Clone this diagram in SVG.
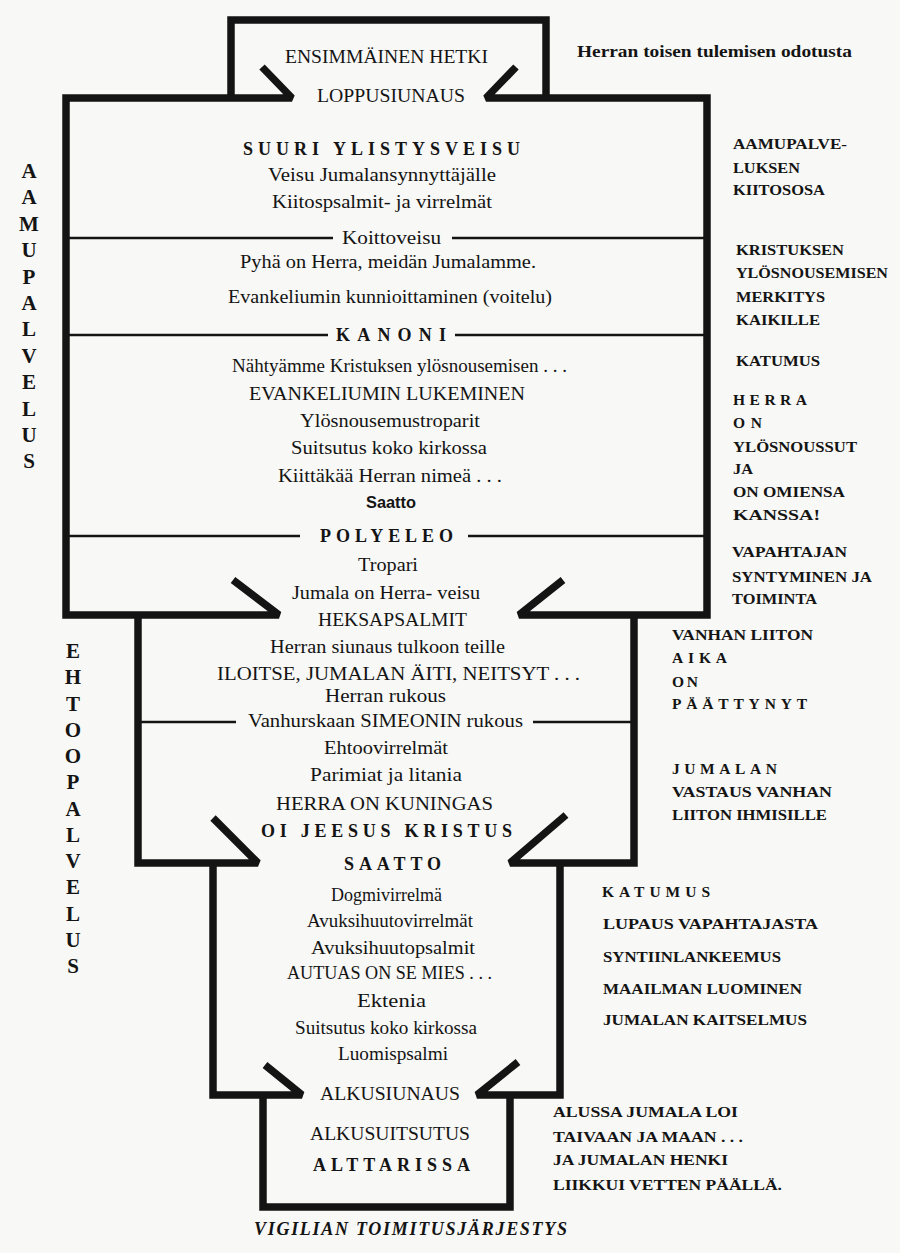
<svg xmlns="http://www.w3.org/2000/svg" width="900" height="1253" viewBox="0 0 900 1253">
<style>
.o{fill:none;stroke:#141414;stroke-width:7.5;stroke-linejoin:miter;stroke-miterlimit:2;stroke-linecap:butt}
.l{fill:none;stroke:#141414;stroke-width:2.5}
text{font-family:"Liberation Serif","Times New Roman",serif;fill:#141414}
.t{font-size:18px}
.b{font-size:18px;font-weight:bold}
.r{font-size:15.5px;font-weight:bold}
.v{font-size:21px;font-weight:bold;text-anchor:middle}
.i{font-size:18px;font-style:italic;font-weight:bold}
</style>
<rect width="900" height="1253" fill="#f8f8f6"/>
<g id="outline">
<path class="o" d="M231,98 V20 H546 V98"/>
<path class="o" d="M262,67 L292,98 H66 V615 H279 L233,580"/>
<path class="o" d="M516,67 L486,98 H707 V615 H519 L563,580"/>
<path class="o" d="M138,615 V863 H258 L213,818"/>
<path class="o" d="M634,615 V863 H510 L566,815"/>
<path class="o" d="M213,863 V1095 H302 L265,1065"/>
<path class="o" d="M560,863 V1095 H477 L518,1062"/>
<path class="o" d="M263,1095 V1207 H510 V1095"/>
</g>
<g id="dividers">
<path class="l" d="M66,238 H333 M452,238 H707"/>
<path class="l" d="M66,335 H328 M455,335 H707"/>
<path class="l" d="M66,536 H300 M468,536 H707"/>
<path class="l" d="M138,722 H236 M533,722 H634"/>
</g>
<g id="top-box">
<text class="t" x="285" y="63" textLength="203" lengthAdjust="spacingAndGlyphs">ENSIMMÄINEN HETKI</text>
<text class="t" x="317" y="102" textLength="148" lengthAdjust="spacingAndGlyphs">LOPPUSIUNAUS</text>
</g>
<g id="top-note">
<text class="r" style="font-size:16px" x="577" y="57" textLength="275" lengthAdjust="spacingAndGlyphs">Herran toisen tulemisen odotusta</text>
</g>
<g id="aamupalvelus-box">
<text class="b" x="243" y="155" textLength="277" lengthAdjust="spacing">SUURI YLISTYSVEISU</text>
<text class="t" x="268" y="181" textLength="228" lengthAdjust="spacingAndGlyphs">Veisu Jumalansynnyttäjälle</text>
<text class="t" x="272" y="208" textLength="220" lengthAdjust="spacingAndGlyphs">Kiitospsalmit- ja virrelmät</text>
<text class="t" x="342" y="244" textLength="99" lengthAdjust="spacingAndGlyphs">Koittoveisu</text>
<text class="t" x="240" y="268" textLength="296" lengthAdjust="spacingAndGlyphs">Pyhä on Herra, meidän Jumalamme.</text>
<text class="t" x="228" y="303" textLength="324" lengthAdjust="spacingAndGlyphs">Evankeliumin kunnioittaminen (voitelu)</text>
<text class="b" x="336" y="341" textLength="110" lengthAdjust="spacing">KANONI</text>
<text class="t" x="232" y="372" textLength="335" lengthAdjust="spacingAndGlyphs">Nähtyämme Kristuksen ylösnousemisen . . .</text>
<text class="t" x="249" y="400" textLength="276" lengthAdjust="spacingAndGlyphs">EVANKELIUMIN LUKEMINEN</text>
<text class="t" x="300" y="427" textLength="180" lengthAdjust="spacingAndGlyphs">Ylösnousemustroparit</text>
<text class="t" x="291" y="454" textLength="196" lengthAdjust="spacingAndGlyphs">Suitsutus koko kirkossa</text>
<text class="t" x="278" y="482" textLength="224" lengthAdjust="spacingAndGlyphs">Kiittäkää Herran nimeä . . .</text>
<text class="b" style="font-family:'Liberation Sans',Arial,sans-serif;font-size:16px" x="366" y="508" textLength="50" lengthAdjust="spacingAndGlyphs">Saatto</text>
<text class="b" x="320" y="542" textLength="133" lengthAdjust="spacing">POLYELEO</text>
<text class="t" x="358" y="571" textLength="60" lengthAdjust="spacingAndGlyphs">Tropari</text>
<text class="t" x="292" y="599" textLength="188" lengthAdjust="spacingAndGlyphs">Jumala on Herra- veisu</text>
</g>
<g id="ehtoopalvelus-box">
<text class="t" x="318" y="626" textLength="149" lengthAdjust="spacingAndGlyphs">HEKSAPSALMIT</text>
<text class="t" x="270" y="653" textLength="235" lengthAdjust="spacingAndGlyphs">Herran siunaus tulkoon teille</text>
<text class="t" x="217" y="680" textLength="363" lengthAdjust="spacingAndGlyphs">ILOITSE, JUMALAN ÄITI, NEITSYT . . .</text>
<text class="t" x="325" y="702" textLength="121" lengthAdjust="spacingAndGlyphs">Herran rukous</text>
<text class="t" x="248" y="727" textLength="275" lengthAdjust="spacingAndGlyphs">Vanhurskaan SIMEONIN rukous</text>
<text class="t" x="324" y="754" textLength="124" lengthAdjust="spacingAndGlyphs">Ehtoovirrelmät</text>
<text class="t" x="310" y="781" textLength="152" lengthAdjust="spacingAndGlyphs">Parimiat ja litania</text>
<text class="t" x="276" y="810" textLength="217" lengthAdjust="spacingAndGlyphs">HERRA ON KUNINGAS</text>
<text class="b" x="261" y="837" textLength="251" lengthAdjust="spacing">OI JEESUS KRISTUS</text>
</g>
<g id="lower-box">
<text class="b" x="344" y="870" textLength="97" lengthAdjust="spacing">SAATTO</text>
<text class="t" x="331" y="901" textLength="111" lengthAdjust="spacingAndGlyphs">Dogmivirrelmä</text>
<text class="t" x="307" y="927" textLength="166" lengthAdjust="spacingAndGlyphs">Avuksihuutovirrelmät</text>
<text class="t" x="311" y="954" textLength="164" lengthAdjust="spacingAndGlyphs">Avuksihuutopsalmit</text>
<text class="t" x="287" y="979" textLength="205" lengthAdjust="spacingAndGlyphs">AUTUAS ON SE MIES . . .</text>
<text class="t" x="357" y="1007" textLength="69" lengthAdjust="spacingAndGlyphs">Ektenia</text>
<text class="t" x="295" y="1034" textLength="182" lengthAdjust="spacingAndGlyphs">Suitsutus koko kirkossa</text>
<text class="t" x="338" y="1060" textLength="110" lengthAdjust="spacingAndGlyphs">Luomispsalmi</text>
</g>
<g id="bottom-box">
<text class="t" x="320" y="1100" textLength="140" lengthAdjust="spacingAndGlyphs">ALKUSIUNAUS</text>
<text class="t" x="310" y="1140" textLength="160" lengthAdjust="spacingAndGlyphs">ALKUSUITSUTUS</text>
<text class="b" x="313" y="1171" textLength="157" lengthAdjust="spacing">ALTTARISSA</text>
</g>
<g id="caption">
<text class="i" x="254" y="1235" textLength="313" lengthAdjust="spacing">VIGILIAN TOIMITUSJÄRJESTYS</text>
</g>
<g id="label-aamupalvelus">
<text class="v" x="29" y="178">A</text>
<text class="v" x="29" y="204.4">A</text>
<text class="v" x="29" y="230.8">M</text>
<text class="v" x="29" y="257.2">U</text>
<text class="v" x="29" y="283.6">P</text>
<text class="v" x="29" y="310">A</text>
<text class="v" x="29" y="336.4">L</text>
<text class="v" x="29" y="362.8">V</text>
<text class="v" x="29" y="389.2">E</text>
<text class="v" x="29" y="415.6">L</text>
<text class="v" x="29" y="442">U</text>
<text class="v" x="29" y="468.4">S</text>
</g>
<g id="label-ehtoopalvelus">
<text class="v" x="73" y="658">E</text>
<text class="v" x="73" y="684.25">H</text>
<text class="v" x="73" y="710.5">T</text>
<text class="v" x="73" y="736.75">O</text>
<text class="v" x="73" y="763">O</text>
<text class="v" x="73" y="789.25">P</text>
<text class="v" x="73" y="815.5">A</text>
<text class="v" x="73" y="841.75">L</text>
<text class="v" x="73" y="868">V</text>
<text class="v" x="73" y="894.25">E</text>
<text class="v" x="73" y="920.5">L</text>
<text class="v" x="73" y="946.75">U</text>
<text class="v" x="73" y="973">S</text>
</g>
<g id="note-kiitososa">
<text class="r" x="733" y="149" textLength="114" lengthAdjust="spacingAndGlyphs">AAMUPALVE-</text>
<text class="r" x="733" y="173" textLength="67" lengthAdjust="spacingAndGlyphs">LUKSEN</text>
<text class="r" x="733" y="195" textLength="92" lengthAdjust="spacingAndGlyphs">KIITOSOSA</text>
</g>
<g id="note-kristuksen">
<text class="r" x="736" y="255" textLength="108" lengthAdjust="spacingAndGlyphs">KRISTUKSEN</text>
<text class="r" x="736" y="278" textLength="152" lengthAdjust="spacingAndGlyphs">YLÖSNOUSEMISEN</text>
<text class="r" x="736" y="302" textLength="89" lengthAdjust="spacingAndGlyphs">MERKITYS</text>
<text class="r" x="736" y="325" textLength="84" lengthAdjust="spacingAndGlyphs">KAIKILLE</text>
</g>
<g id="note-katumus1">
<text class="r" x="736" y="366" textLength="84" lengthAdjust="spacingAndGlyphs">KATUMUS</text>
</g>
<g id="note-herra">
<text class="r" x="733" y="405" textLength="74" lengthAdjust="spacing">HERRA</text>
<text class="r" x="733" y="428" textLength="29" lengthAdjust="spacing">ON</text>
<text class="r" x="733" y="452" textLength="124" lengthAdjust="spacingAndGlyphs">YLÖSNOUSSUT</text>
<text class="r" x="733" y="474" textLength="20" lengthAdjust="spacingAndGlyphs">JA</text>
<text class="r" x="733" y="497" textLength="112" lengthAdjust="spacingAndGlyphs">ON OMIENSA</text>
<text class="r" x="733" y="520" textLength="87" lengthAdjust="spacingAndGlyphs">KANSSA!</text>
</g>
<g id="note-vapahtajan">
<text class="r" x="732" y="557" textLength="115" lengthAdjust="spacingAndGlyphs">VAPAHTAJAN</text>
<text class="r" x="732" y="582" textLength="140" lengthAdjust="spacingAndGlyphs">SYNTYMINEN JA</text>
<text class="r" x="732" y="604" textLength="85" lengthAdjust="spacingAndGlyphs">TOIMINTA</text>
</g>
<g id="note-vanhan">
<text class="r" x="672" y="640" textLength="141" lengthAdjust="spacingAndGlyphs">VANHAN LIITON</text>
<text class="r" x="672" y="663" textLength="55" lengthAdjust="spacing">AIKA</text>
<text class="r" x="672" y="687" textLength="26" lengthAdjust="spacing">ON</text>
<text class="r" x="672" y="709" textLength="135" lengthAdjust="spacing">PÄÄTTYNYT</text>
</g>
<g id="note-jumalan">
<text class="r" x="672" y="774" textLength="105" lengthAdjust="spacing">JUMALAN</text>
<text class="r" x="672" y="797" textLength="160" lengthAdjust="spacingAndGlyphs">VASTAUS VANHAN</text>
<text class="r" x="672" y="820" textLength="155" lengthAdjust="spacingAndGlyphs">LIITON IHMISILLE</text>
</g>
<g id="note-katumus2">
<text class="r" x="602" y="897" textLength="108" lengthAdjust="spacing">KATUMUS</text>
<text class="r" x="603" y="929" textLength="215" lengthAdjust="spacingAndGlyphs">LUPAUS VAPAHTAJASTA</text>
<text class="r" x="603" y="962" textLength="178" lengthAdjust="spacingAndGlyphs">SYNTIINLANKEEMUS</text>
<text class="r" x="603" y="994" textLength="199" lengthAdjust="spacingAndGlyphs">MAAILMAN LUOMINEN</text>
<text class="r" x="603" y="1025" textLength="204" lengthAdjust="spacingAndGlyphs">JUMALAN KAITSELMUS</text>
</g>
<g id="note-alussa">
<text class="r" x="553" y="1117" textLength="185" lengthAdjust="spacingAndGlyphs">ALUSSA JUMALA LOI</text>
<text class="r" x="553" y="1142" textLength="190" lengthAdjust="spacingAndGlyphs">TAIVAAN JA MAAN . . .</text>
<text class="r" x="553" y="1165" textLength="175" lengthAdjust="spacingAndGlyphs">JA JUMALAN HENKI</text>
<text class="r" x="553" y="1190" textLength="229" lengthAdjust="spacingAndGlyphs">LIIKKUI VETTEN PÄÄLLÄ.</text>
</g>
</svg>
